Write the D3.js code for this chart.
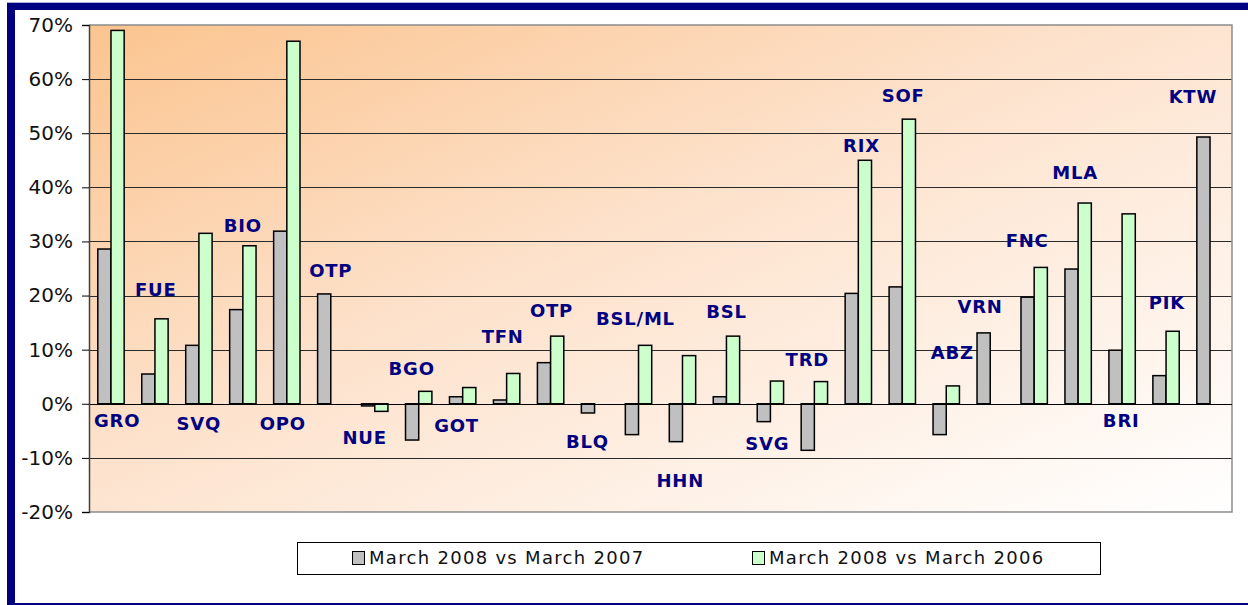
<!DOCTYPE html>
<html>
<head>
<meta charset="utf-8">
<script src="https://cdn.jsdelivr.net/npm/d3@7"></script>
<style>
  body { margin: 0; background: #fff; }
  svg { display: block; }
</style>
</head>
<body>
<div id="container"></div>
<script>
// DATA (percent change in passengers)
const categories = ["GRO","FUE","SVQ","BIO","OPO","OTP","NUE","BGO","GOT","TFN","OTP","BLQ","BSL/ML",
  "HHN","BSL","SVG","TRD","RIX","SOF","ABZ","VRN","FNC","MLA","BRI","PIK","KTW"];
const vs2007 = [28.6, 5.5, 10.8, 17.4, 31.9, 20.3, -0.4, -6.7, 1.3, 0.7, 7.6, -1.7, -5.7,
  -7.0, 1.3, -3.3, -8.6, 20.4, 21.6, -5.7, 13.1, 19.7, 24.9, 9.9, 5.2, 49.3];
const vs2006 = [69.0, 15.7, 31.5, 29.2, 67.0, null, -1.4, 2.3, 3.0, 5.6, 12.5, null, 10.8,
  8.9, 12.5, 4.2, 4.1, 45.0, 52.6, 3.3, null, 25.2, 37.1, 35.1, 13.4, null];
const seriesNames = ["March 2008 vs March 2007", "March 2008 vs March 2006"];
const tickValues = [-20, -10, 0, 10, 20, 30, 40, 50, 60, 70];

// where each airport code sits (y in % units, x shift in category widths)
const labelLevel = [-3.1, 21.1, -3.7, 32.9, -3.7, 24.6, -6.3, 6.5, -4.1, 12.4, 17.2, -7.0, 15.7,
  -14.2, 17.0, -7.4, 8.1, 47.8, 56.9, 9.4, 17.9, 30.1, 42.7, -3.1, 18.7, 56.7];
const labelShift = [0.14, 0.02, 0, 0, -0.09, 0, -0.23, -0.16, -0.14, -0.09, 0.02, -0.16, -0.07,
  -0.05, 0, -0.07, -0.16, 0.07, 0.02, 0.14, -0.23, -0.16, -0.07, -0.02, 0.02, -0.39];

const width = 1248, height = 605;
const plot = { left: 89, right: 1232, top: 25, bottom: 512 };
const navy = "#000080";
const colors = ["#c0c0c0", "#ccffcc"];

const svg = d3.select("#container").append("svg")
  .attr("width", width)
  .attr("height", height);

// gradient for plot area
const grad = svg.append("defs").append("linearGradient")
  .attr("id", "bg")
  .attr("x1", 0).attr("y1", 0).attr("x2", 1).attr("y2", 1);
grad.append("stop").attr("offset", "0%").attr("stop-color", "#fbc48f");
grad.append("stop").attr("offset", "45%").attr("stop-color", "#fde2cc");
grad.append("stop").attr("offset", "100%").attr("stop-color", "#ffffff");

// SCALES
const xScale = d3.scaleBand()
  .domain(d3.range(categories.length))
  .range([plot.left, plot.right]);

const xSub = d3.scaleBand()
  .domain([0, 1])
  .range([0, xScale.bandwidth()])
  .paddingOuter(0.667);

const yScale = d3.scaleLinear()
  .domain([-20, 70])
  .range([plot.bottom, plot.top]);

// plot background
svg.append("rect")
  .attr("x", plot.left).attr("y", plot.top)
  .attr("width", plot.right - plot.left)
  .attr("height", plot.bottom - plot.top)
  .attr("fill", "url(#bg)");

// gridlines
svg.append("g")
  .selectAll("line")
  .data(tickValues.filter(d => d > -20 && d < 70))
  .join("line")
  .attr("x1", plot.left).attr("x2", plot.right)
  .attr("y1", d => Math.round(yScale(d)) + 0.5)
  .attr("y2", d => Math.round(yScale(d)) + 0.5)
  .attr("stroke", d => d === 0 ? "#000" : "#2a2a2a")
  .attr("stroke-width", 1);

// plot border (top, right, bottom)
svg.append("path")
  .attr("d", `M${plot.left},${plot.top}H${plot.right}V${plot.bottom}H${plot.left}`)
  .attr("fill", "none")
  .attr("stroke", "#8c8c8c")
  .attr("stroke-width", 1.5);

// BARS
const series = [vs2007, vs2006];
series.forEach((vals, s) => {
  svg.append("g")
    .selectAll("rect")
    .data(vals.map((v, i) => ({ i, v })).filter(d => d.v !== null))
    .join("rect")
    .attr("x", d => xScale(d.i) + xSub(s))
    .attr("width", xSub.bandwidth())
    .attr("y", d => yScale(Math.max(0, d.v)))
    .attr("height", d => Math.abs(yScale(d.v) - yScale(0)))
    .attr("fill", colors[s])
    .attr("stroke", "#000")
    .attr("stroke-width", 1.5);
});

// redraw zero line over bars
svg.append("line")
  .attr("x1", plot.left).attr("x2", plot.right)
  .attr("y1", Math.round(yScale(0)) + 0.5).attr("y2", Math.round(yScale(0)) + 0.5)
  .attr("stroke", "#000");

// Y AXIS
const yAxis = d3.axisLeft(yScale)
  .tickValues(tickValues)
  .tickSize(7)
  .tickPadding(9)
  .tickFormat(d => (d < 0 ? "-" : "") + Math.abs(d) + "%");

const axisG = svg.append("g")
  .attr("transform", `translate(${plot.left},0)`)
  .call(yAxis);
axisG.select(".domain").attr("stroke", "#404040").attr("stroke-width", 1.5);
axisG.selectAll(".tick line").attr("stroke", "#000");
axisG.selectAll("text")
  .attr("font-family", "DejaVu Sans, Verdana, sans-serif")
  .attr("font-size", 20)
  .attr("fill", "#111");

// airport code labels
svg.append("g")
  .selectAll("text")
  .data(categories)
  .join("text")
  .attr("x", (d, i) => xScale(i) + xScale.bandwidth() * (0.5 + labelShift[i]))
  .attr("y", (d, i) => yScale(labelLevel[i]))
  .attr("dy", "0.36em")
  .attr("text-anchor", "middle")
  .attr("font-family", "DejaVu Sans, Verdana, sans-serif")
  .attr("font-weight", "bold")
  .attr("font-size", 18)
  .attr("letter-spacing", 0.8)
  .attr("fill", navy)
  .text(d => d);

// LEGEND
const legend = svg.append("g");
legend.append("rect")
  .attr("x", 297.5).attr("y", 542.5)
  .attr("width", 803).attr("height", 32)
  .attr("fill", "#fff")
  .attr("stroke", "#000");

const legendX = [352, 752];
seriesNames.forEach((name, s) => {
  legend.append("rect")
    .attr("x", legendX[s] + 0.5).attr("y", 551.5)
    .attr("width", 12).attr("height", 13)
    .attr("fill", colors[s])
    .attr("stroke", "#000");
  legend.append("text")
    .attr("x", legendX[s] + 17)
    .attr("y", 558)
    .attr("dy", "0.36em")
    .attr("font-family", "DejaVu Sans, Verdana, sans-serif")
    .attr("font-size", 18)
    .attr("letter-spacing", 1.3)
    .attr("fill", "#111")
    .text(name);
});

// navy frame
svg.append("rect").attr("x", 7).attr("y", 2).attr("width", width - 7).attr("height", 1).attr("fill", "#aab0d8");
svg.append("rect").attr("x", 7).attr("y", 3).attr("width", width - 7).attr("height", 7).attr("fill", navy);
svg.append("rect").attr("x", 7).attr("y", 3).attr("width", 8).attr("height", height - 3).attr("fill", navy);
svg.append("rect").attr("x", 7).attr("y", 603).attr("width", width - 7).attr("height", 2).attr("fill", navy);
</script>
</body>
</html>
